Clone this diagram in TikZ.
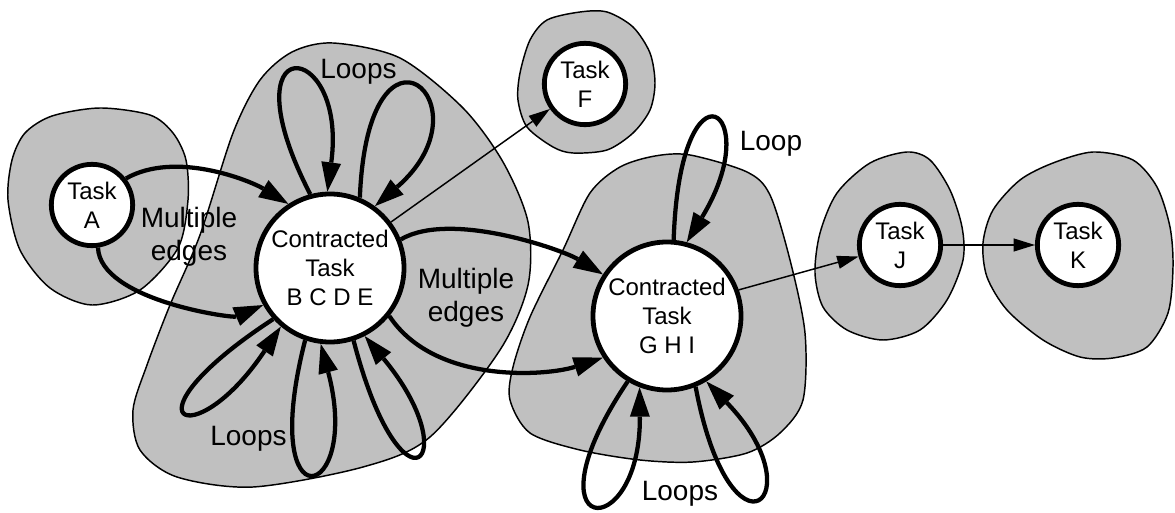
\documentclass[tikz,border=0pt]{standalone}
\usepackage{fontspec}
\setmainfont{Liberation Sans}
\usetikzlibrary{arrows.meta}
\definecolor{regiongray}{RGB}{192,192,192}
\begin{document}
\begin{tikzpicture}[x=0.75pt,y=-0.75pt,
  blob/.style={fill=regiongray, draw=black, line width=1.1pt},
  tasknode/.style={circle, draw=black, fill=white, line width=3.6pt,
    minimum size=61pt, inner sep=0pt, align=center,
    font=\fontsize{18}{21.75}\selectfont},
  bignode/.style={tasknode, minimum size=111pt},
  thickedge/.style={line width=3.2pt,
    -{Triangle[length=22pt,width=15pt,line width=0pt]}},
  thinedge/.style={line width=1.1pt,
    -{Triangle[length=16pt,width=10pt,line width=0pt]}},
  remark/.style={font=\fontsize{21}{25}\selectfont, align=center, inner sep=0pt},
]
\useasboundingbox (0,0) rectangle (1175,513);

% grey regions around each group of tasks
\draw[blob] plot[smooth cycle] coordinates {
  (100,108) (150,115) (173,133) (186,160) (188,200) (178,248) (140,290)
  (92,305) (50,288) (20,250) (8,200) (12,160) (25,133) (52,116)};
\draw[blob] plot[smooth cycle] coordinates {
  (333,43) (400,58) (463,108) (503,162) (528,222) (528,285) (500,350)
  (430,437) (363,467) (253,487) (177,477) (140,450) (133,410) (147,365)
  (170,305) (200,235) (233,133) (260,80) (292,52)};
\draw[blob] plot[smooth cycle] coordinates {
  (580,12) (607,12) (633,27) (650,53) (655,83) (650,110) (633,133)
  (607,150) (573,153) (553,147) (527,127) (518,100) (520,73) (530,40)
  (547,20)};
\draw[blob] plot[smooth cycle] coordinates {
  (690,155) (747,172) (770,195) (790,260) (805,333) (803,400) (780,433)
  (747,453) (693,462) (640,460) (580,450) (530,433) (510,400) (513,367)
  (530,317) (563,250) (590,193) (620,167) (655,156)};
\draw[blob] plot[smooth cycle] coordinates {
  (907,152) (930,160) (950,190) (962,227) (963,260) (947,300) (920,330)
  (883,340) (847,330) (823,307) (815,273) (820,233) (837,193) (870,163)};
\draw[blob] plot[smooth cycle] coordinates {
  (1093,152) (1133,160) (1157,187) (1170,227) (1173,267) (1168,313)
  (1147,347) (1113,358) (1080,357) (1043,340) (1007,310) (987,277)
  (983,243) (993,210) (1020,180) (1053,163)};

% tasks
\node[tasknode] (A) at (92,205) {Task\\A};
\node[bignode] (B) at (330,268) {Contracted\\Task\\B C D E};
\node[tasknode] (F) at (585,84) {Task\\F};
\node[bignode] (G) at (667,316) {Contracted\\Task\\G H I};
\node[tasknode] (J) at (900,245) {Task\\J};
\node[tasknode] (K) at (1078,245) {Task\\K};

% edges between groups (second control points allow for the tip shortening)
\draw[thickedge] (A.38) .. controls (176,150) and (251.1,181.2) .. (B.123);
\draw[thickedge] (A.278) .. controls (100,300) and (231.9,318.4) .. (B.209);
\draw[thinedge] (B.37) -- (F);
\draw[thickedge] (B.22) .. controls (451,210) and (563.1,250.2) .. (G.147);
\draw[thickedge] (B.321) .. controls (435,385) and (547.8,375.8) .. (G.213);
\draw[thinedge] (G.20) -- (J);
\draw[thinedge] (J) -- (K);

% loops on the contracted tasks
\draw[thickedge] (B.105) .. controls (223.5,26.1) and (348.1,37) .. (B.92);
\draw[thickedge] (B.67) .. controls (368,-5) and (492.8,104.2) .. (B.54);
\draw[thickedge] (B.222) .. controls (117,421) and (193,458) .. (B.230);
\draw[thickedge] (B.251) .. controls (256.5,530) and (362.6,502) .. (B.263);
\draw[thickedge] (B.288) .. controls (402,526) and (468,460) .. (B.297);
\draw[thickedge] (G.85) .. controls (680,50) and (767.9,109.1) .. (G.75);
\draw[thickedge] (G.239) .. controls (521,540) and (640.9,547) .. (G.249);
\draw[thickedge] (G.292) .. controls (731,574) and (818,497) .. (G.301);

% annotations
\node[remark] (me1) at (189,236.5) {Multiple\\edges};
\node[remark] (me2) at (466,298) {Multiple\\edges};
\node[remark, anchor=base] (lp1) at (358.5,79) {Loops};
\node[remark, anchor=base] (lp2) at (248.5,445) {Loops};
\node[remark, anchor=base] (lp3) at (771,151) {Loop};
\node[remark, anchor=base] (lp4) at (680,500) {Loops};
\end{tikzpicture}
\end{document}
